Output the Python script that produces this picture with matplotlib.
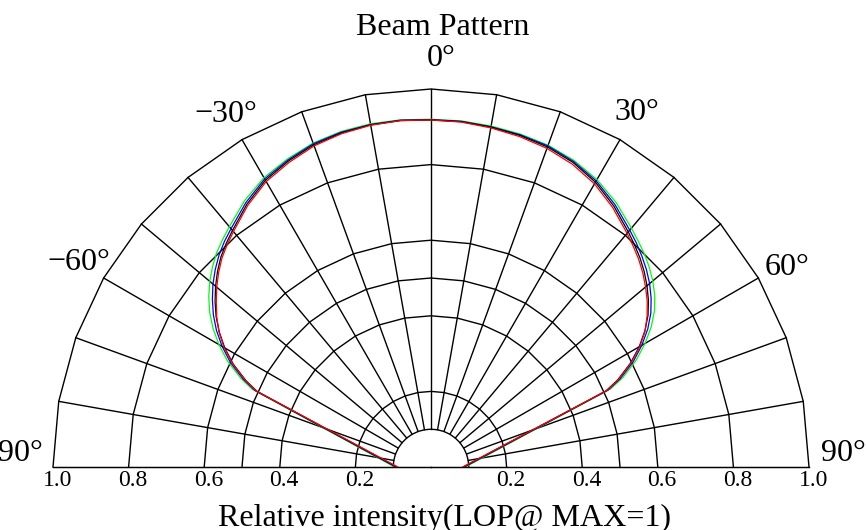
import numpy as np
import matplotlib
matplotlib.use("Agg")
import matplotlib.pyplot as plt

# ---------------- data ----------------
angles_deg = [-90, -66.5, -65, -62.5, -60, -57.5, -55, -52.5, -50, -47.5, -45, -42.5, -40, -35, -30, -25,
              -20, -15, -10, -5, 0, 5, 10, 15, 20, 25, 30, 35, 40, 42.5, 45, 47.5, 50, 52.5, 55, 57.5,
              60, 62.5, 65, 66.5, 90]
black = [0.090, 0.502, 0.540, 0.590, 0.630, 0.664, 0.694, 0.720, 0.744, 0.766, 0.786, 0.802, 0.817, 0.849,
         0.876, 0.893, 0.907, 0.915, 0.919, 0.920, 0.918, 0.917, 0.913, 0.908, 0.901, 0.889, 0.870, 0.843,
         0.812, 0.797, 0.782, 0.765, 0.746, 0.725, 0.701, 0.671, 0.636, 0.595, 0.545, 0.505, 0.085]
red = [0.088, 0.504, 0.542, 0.592, 0.632, 0.665, 0.692, 0.716, 0.740, 0.762, 0.782, 0.798, 0.813, 0.845,
       0.872, 0.889, 0.904, 0.913, 0.918, 0.920, 0.918, 0.916, 0.911, 0.905, 0.897, 0.884, 0.865, 0.838,
       0.807, 0.792, 0.777, 0.760, 0.741, 0.721, 0.698, 0.672, 0.638, 0.597, 0.547, 0.507, 0.084]
blue = [0.093, 0.508, 0.547, 0.598, 0.638, 0.673, 0.703, 0.729, 0.753, 0.774, 0.793, 0.809, 0.823, 0.854,
        0.880, 0.896, 0.910, 0.917, 0.920, 0.921, 0.919, 0.918, 0.914, 0.910, 0.904, 0.892, 0.874, 0.848,
        0.818, 0.804, 0.789, 0.773, 0.755, 0.734, 0.710, 0.680, 0.644, 0.603, 0.552, 0.511, 0.088]
green = [0.096, 0.515, 0.555, 0.607, 0.648, 0.684, 0.715, 0.741, 0.764, 0.784, 0.802, 0.816, 0.830, 0.860,
         0.884, 0.899, 0.912, 0.919, 0.922, 0.922, 0.920, 0.919, 0.916, 0.912, 0.906, 0.895, 0.878, 0.854,
         0.825, 0.811, 0.798, 0.783, 0.766, 0.746, 0.722, 0.691, 0.654, 0.612, 0.560, 0.518, 0.091]

grid_radii = [0.1, 0.2, 0.4, 0.5, 0.6, 0.8, 1.0]
spoke_angles = list(range(-80, 81, 10))
ring_angles = list(range(-90, 91, 10))
radial_tick_values = [1.0, 0.8, 0.6, 0.4, 0.2]
radial_tick_labels = ["1.0", "0.8", "0.6", "0.4", "0.2"]
angle_label_pos = [-90, -60, -30, 0, 30, 60, 90]
angle_labels = ["\u221290°", "\u221260°", "\u221230°", "0°", "30°", "60°", "90°"]
title_text = "Beam Pattern"
xlabel_text = "Relative intensity(LOP@ MAX=1)"

# ---------------- figure ----------------
plt.rcParams['font.family'] = ['Liberation Serif', 'DejaVu Serif']
W, H = 866, 530
fig = plt.figure(figsize=(W / 100, H / 100), dpi=100)
cx, base_y, R = 431, 63, 378   # layout in pixels (origin x, baseline height from bottom, radius)
ax = fig.add_axes([(cx - R) / W, (base_y - 0.5 * R) / H, 2 * R / W, 2 * R / H], projection='polar')
ax.set_theta_zero_location('N')
ax.set_theta_direction(-1)
ax.set_thetamin(-90)
ax.set_thetamax(90)
ax.set_rlim(0, 1)
ax.grid(False)
ax.set_xticks([])
ax.set_yticks([])
for s in ax.spines.values():
    s.set_visible(False)

glw = 1.0
# rings (polygonal)
th_ring = np.deg2rad(ring_angles)
for r in grid_radii:
    ax.plot(th_ring, [r] * len(th_ring), color='black', lw=glw, clip_on=False, solid_joinstyle='miter')
# spokes
for a in spoke_angles:
    ax.plot([np.deg2rad(a)] * 2, [grid_radii[0], 1.0], color='black', lw=glw, clip_on=False)
# baseline
for a in (-90, 90):
    ax.plot([np.deg2rad(a)] * 2, [0, 1.0], color='black', lw=glw, clip_on=False)

# curves
th = np.deg2rad(angles_deg)
clw = 0.9
ax.plot(th, green, color='#00ff00', lw=clw, clip_on=False)
ax.plot(th, blue, color='#0000ff', lw=clw, clip_on=False)
ax.plot(th, black, color='black', lw=clw, clip_on=False)
ax.plot(th, red, color='#ff0000', lw=clw, clip_on=False)

# angle labels
label_offsets = {-90: (-8, 10), -60: (1, 0), -30: (-1, -1), 0: (7, 0), 30: (1, 1), 60: (2, -3), 90: (3, 10)}
for a, lab in zip(angle_label_pos, angle_labels):
    ax.annotate(lab, xy=(np.deg2rad(a), 1.08), xytext=label_offsets[a], textcoords='offset points',
                ha='center', va='center', fontsize=23, annotation_clip=False)

# radial labels along baseline
for side in (-90, 90):
    for v, lab in zip(radial_tick_values, radial_tick_labels):
        ax.annotate(lab, xy=(np.deg2rad(side), v), xytext=(3, -2.5), textcoords='offset points',
                    ha='center', va='top', fontsize=17, annotation_clip=False)

fig.text(443 / W, (H - 35) / H, title_text, ha='center', va='baseline', fontsize=23)
fig.text(444 / W, 4 / H, xlabel_text, ha='center', va='baseline', fontsize=23)

fig.savefig('out.png', dpi=100)
